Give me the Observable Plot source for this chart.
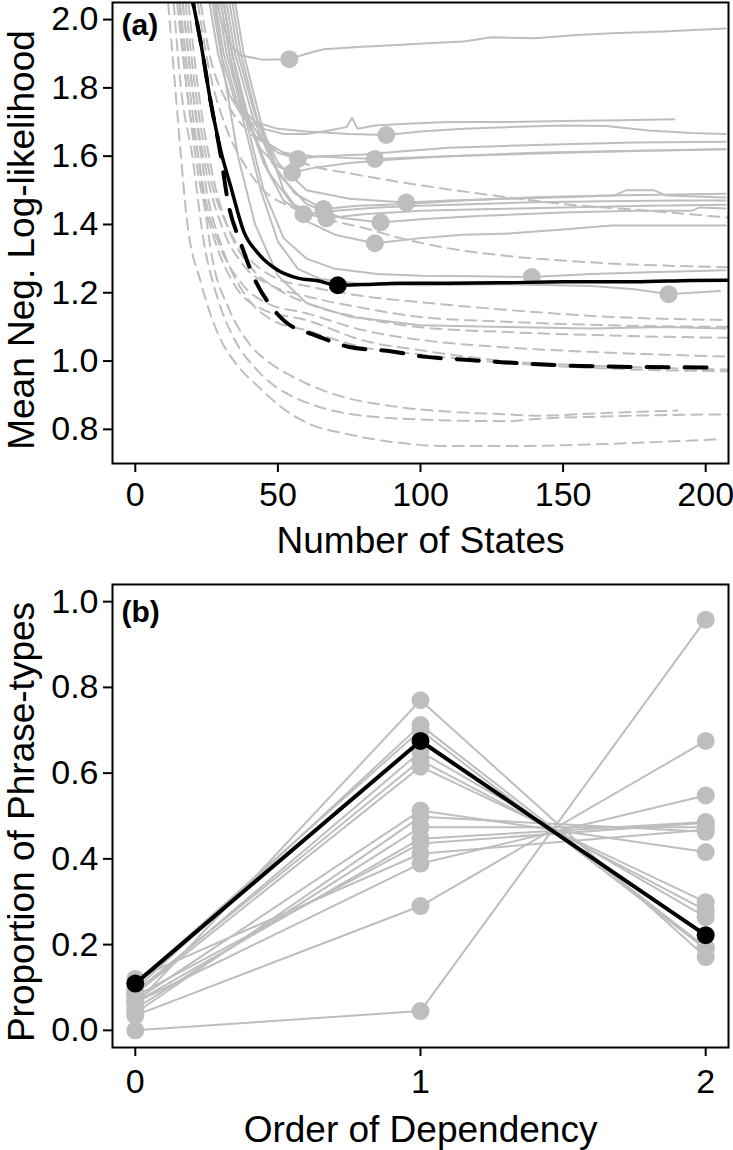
<!DOCTYPE html>
<html><head><meta charset="utf-8">
<script src="https://cdn.jsdelivr.net/npm/d3@7"></script>
<script src="https://cdn.jsdelivr.net/npm/@observablehq/plot@0.6"></script>
<style>
body{margin:0;background:#fff;}
#chart{width:733px;}
svg{display:block;}
</style></head><body><div id="chart"></div>
<script>
// ---------- Panel (a) ----------
const statesTicks = [0, 50, 100, 150, 200];
const llTicks = [0.8, 1.0, 1.2, 1.4, 1.6, 1.8, 2.0];

// gray solid curves (Number of States, Mean Neg. Log-likelihood)
const solid01 = [[27,2.1],[30,2.0],[33,1.93],[37,1.895],[45,1.882],[54,1.884],[60,1.9],[66,1.913],[78,1.92],[90,1.925],[101,1.93],[115,1.936],[125,1.948],[140,1.945],[155,1.955],[167,1.96],[185,1.965],[207,1.974]];
const solid02 = [[25,2.1],[29,1.9],[33,1.78],[38,1.71],[45,1.68],[52,1.665],[60,1.665],[68,1.675],[74,1.685],[76,1.712],[78,1.68],[84,1.69],[95,1.695],[110,1.7],[130,1.7],[150,1.703],[170,1.705],[189,1.708]];
const solid03 = [[26,2.1],[30,1.9],[35,1.76],[42,1.7],[50,1.68],[60,1.672],[75,1.665],[88,1.662],[100,1.672],[115,1.68],[130,1.685],[150,1.69],[165,1.688],[180,1.675],[195,1.668],[207,1.665]];
const solid04 = [[27,2.1],[31,1.9],[36,1.75],[42,1.66],[50,1.61],[57,1.592],[65,1.6],[80,1.605],[95,1.615],[110,1.625],[130,1.63],[150,1.635],[175,1.64],[207,1.642]];
const solid05 = [[28,2.1],[32,1.9],[37,1.75],[44,1.65],[52,1.61],[62,1.6],[74,1.595],[84,1.592],[95,1.595],[110,1.6],[130,1.605],[150,1.61],[175,1.615],[207,1.62]];
const solid06 = [[29,2.1],[33,1.9],[38,1.72],[44,1.62],[50,1.57],[55,1.552],[62,1.565],[75,1.58],[90,1.59],[110,1.6],[140,1.61],[170,1.615],[207,1.62]];
const solid07 = [[30,2.1],[34,1.9],[39,1.72],[45,1.58],[52,1.47],[59,1.43],[70,1.44],[85,1.45],[100,1.455],[120,1.46],[140,1.465],[165,1.468],[190,1.47],[207,1.47]];
const solid08 = [[31,2.1],[35,1.9],[41,1.72],[48,1.58],[56,1.49],[66,1.445],[78,1.455],[95,1.46],[115,1.47],[140,1.48],[165,1.485],[190,1.488],[207,1.49]];
const solid09 = [[30,2.1],[34,1.9],[40,1.7],[47,1.55],[55,1.46],[67,1.418],[80,1.43],[100,1.44],[125,1.445],[150,1.45],[180,1.455],[207,1.458]];
const solid10 = [[32,2.1],[36,1.9],[42,1.72],[50,1.58],[60,1.5],[75,1.475],[95,1.464],[110,1.47],[130,1.475],[150,1.48],[168,1.485],[172,1.5],[182,1.5],[186,1.485],[207,1.479]];
const solid11 = [[33,2.1],[37,1.9],[43,1.7],[50,1.55],[60,1.46],[72,1.42],[86,1.406],[100,1.415],[120,1.425],[150,1.435],[175,1.44],[195,1.44],[198,1.45],[207,1.447]];
const solid12 = [[34,2.1],[38,1.9],[44,1.7],[52,1.5],[60,1.41],[70,1.37],[84,1.345],[100,1.36],[115,1.37],[132,1.374],[150,1.385],[167,1.397],[207,1.397]];
const solid13 = [[30,2.1],[34,1.9],[39,1.7],[45,1.5],[52,1.36],[60,1.3],[70,1.27],[85,1.255],[100,1.25],[120,1.248],[139,1.246],[160,1.255],[180,1.26],[207,1.266]];
const solid14 = [[29,2.1],[33,1.9],[38,1.7],[44,1.5],[50,1.35],[57,1.27],[65,1.24],[80,1.225],[100,1.222],[130,1.225],[160,1.22],[175,1.21],[187,1.196],[195,1.2],[205,1.205]];
const solid15 = [[27,2.1],[31,1.85],[36,1.6],[42,1.4],[50,1.25],[60,1.17],[75,1.13],[100,1.105],[130,1.1],[160,1.095],[185,1.1],[207,1.095]];
const graySolid = [solid01, solid02, solid03, solid04, solid05, solid06, solid07, solid08, solid09, solid10, solid11, solid12, solid13, solid14, solid15];

// minima of the gray solid curves
const grayMinX = [54, 88, 57, 84, 55, 59, 66, 67, 95, 86, 84, 139, 187];
const grayMinY = [1.884, 1.662, 1.592, 1.592, 1.552, 1.43, 1.445, 1.418, 1.464, 1.406, 1.345, 1.246, 1.196];

// gray dashed curves
const dash01 = [[11,2.1],[14,1.8],[16,1.6],[18,1.42],[23,1.23],[29,1.08],[36,0.985],[43,0.926],[52,0.86],[60,0.82],[75,0.785],[90,0.763],[111,0.751],[130,0.751],[164,0.757],[205,0.771]];
const dash02 = [[13,2.1],[16,1.8],[20,1.6],[24,1.35],[29,1.18],[35,1.06],[42,0.98],[50,0.92],[55,0.897],[72,0.85],[96,0.83],[130,0.824],[140,0.83],[175,0.84],[208,0.844]];
const dash03 = [[15,2.1],[18,1.8],[22,1.6],[27,1.3],[33,1.15],[40,1.05],[48,0.99],[55,0.955],[72,0.897],[90,0.868],[113,0.85],[130,0.844],[140,0.84],[165,0.848],[190,0.855]];
const dash04 = [[22,2.1],[26,1.9],[32,1.76],[40,1.67],[50,1.62],[60,1.577],[75,1.55],[90,1.528],[121,1.49],[150,1.46],[180,1.44],[208,1.42]];
const dash05 = [[21,2.1],[26,1.85],[32,1.68],[38,1.58],[45,1.5],[55,1.45],[65,1.42],[80,1.39],[93,1.36],[110,1.33],[128,1.31],[164,1.287],[208,1.275]];
const dash06 = [[17,2.1],[21,1.8],[26,1.55],[32,1.4],[40,1.3],[50,1.24],[60,1.22],[80,1.19],[99,1.173],[130,1.15],[165,1.13],[208,1.12]];
const dash07 = [[16,2.1],[20,1.8],[25,1.55],[31,1.38],[38,1.28],[48,1.22],[60,1.19],[80,1.155],[99,1.13],[130,1.115],[165,1.105],[208,1.1]];
const dash08 = [[18,2.1],[22,1.8],[27,1.55],[33,1.38],[40,1.28],[50,1.21],[60,1.17],[80,1.125],[99,1.1],[130,1.085],[165,1.075],[208,1.068]];
const dash09 = [[15,2.1],[19,1.8],[24,1.5],[30,1.33],[37,1.23],[46,1.17],[60,1.14],[80,1.09],[99,1.063],[130,1.04],[165,1.025],[208,1.013]];
const dash10 = [[14,2.1],[18,1.8],[22,1.55],[28,1.35],[35,1.22],[45,1.15],[60,1.12],[80,1.06],[99,1.033],[130,1.0],[165,0.985],[208,0.975]];
const dash11 = [[16,2.1],[20,1.8],[25,1.5],[31,1.32],[38,1.2],[48,1.12],[60,1.09],[80,1.04],[99,1.02],[130,0.995],[165,0.978],[208,0.97]];
const grayDashed = [dash01, dash02, dash03, dash04, dash05, dash06, dash07, dash08, dash09, dash10, dash11];

// black curves
const blackSolid = [[19,2.1],[23,1.93],[26.4,1.76],[30,1.615],[33.5,1.51],[38,1.38],[43,1.316],[50,1.266],[57,1.243],[64,1.235],[71,1.222],[80,1.224],[93,1.228],[110,1.228],[128,1.229],[150,1.232],[175,1.232],[195,1.236],[208,1.237]];
const blackDashed = [[19,2.1],[23,1.93],[26.4,1.76],[30,1.6],[32.4,1.47],[37,1.345],[41.5,1.246],[48.6,1.15],[57,1.092],[60.5,1.083],[74.6,1.042],[90,1.028],[101,1.013],[115.6,1.004],[129.6,0.996],[164,0.984],[205,0.981]];
const blackMin = [71, 1.222];

// ---------- Panel (b) ----------
const orders = [0, 1, 2];
const propTicks = [0, 0.2, 0.4, 0.6, 0.8, 1.0];
const phraseGray = [
  [0.00, 0.045, 0.958],
  [0.035, 0.290, 0.675],
  [0.06, 0.770, 0.171],
  [0.065, 0.389, 0.548],
  [0.095, 0.712, 0.194],
  [0.11, 0.700, 0.190],
  [0.085, 0.650, 0.264],
  [0.09, 0.630, 0.280],
  [0.085, 0.615, 0.299],
  [0.07, 0.513, 0.416],
  [0.04, 0.498, 0.463],
  [0.05, 0.474, 0.474],
  [0.065, 0.447, 0.486],
  [0.08, 0.436, 0.484],
  [0.12, 0.412, 0.468]
];
const phraseBlack = [0.109, 0.675, 0.222];

// ---------- build ----------
const GRAY = "#bebebe";
const FONT = "'Liberation Sans', Arial, sans-serif";
const toRows = (list) => list.flatMap((pts, i) => pts.map(([x, y]) => ({x, y, id: i})));
const solidRows = toRows(graySolid);
const dashedRows = toRows(grayDashed);
const minRows = grayMinX.map((x, i) => ({x, y: grayMinY[i]}));
const bSolidRows = blackSolid.map(([x, y]) => ({x, y}));
const bDashedRows = blackDashed.map(([x, y]) => ({x, y}));

const TICK = 34, TITLE = 37, TAG = 30;

const plotA = Plot.plot({
  width: 733, height: 570,
  marginLeft: 112, marginRight: 5, marginTop: 2, marginBottom: 107,
  style: {fontFamily: FONT, background: "white", color: "black"},
  x: {domain: [-8, 208]},
  y: {domain: [0.70, 2.05]},
  marks: [
    Plot.line(dashedRows, {x: "x", y: "y", z: "id", stroke: GRAY, strokeWidth: 2, strokeDasharray: "11,7", curve: "monotone-x", clip: true}),
    Plot.line(solidRows, {x: "x", y: "y", z: "id", stroke: GRAY, strokeWidth: 2, curve: "linear", clip: true}),
    Plot.dot(minRows, {x: "x", y: "y", r: 9, fill: GRAY}),
    Plot.line(bDashedRows, {x: "x", y: "y", stroke: "black", strokeWidth: 4, strokeDasharray: "22,16", curve: "monotone-x", clip: true}),
    Plot.line(bSolidRows, {x: "x", y: "y", stroke: "black", strokeWidth: 3.5, curve: "monotone-x", clip: true}),
    Plot.dot([blackMin], {x: d => d[0], y: d => d[1], r: 9, fill: "black"}),
    Plot.frame({stroke: "black", strokeWidth: 2}),
    Plot.axisX({ticks: statesTicks, tickSize: 9, tickPadding: 9, fontSize: TICK, strokeWidth: 2, label: null, tickFormat: d => String(d)}),
    Plot.axisY({ticks: llTicks, tickSize: 9, tickPadding: 5, fontSize: TICK, strokeWidth: 2, label: null, tickFormat: d3.format(".1f")}),
    Plot.text(["(a)"], {text: d => d, frameAnchor: "top-left", dx: 9, dy: 23, lineAnchor: "middle", textAnchor: "start", fontWeight: "bold", fontSize: TAG}),
    Plot.text(["Number of States"], {text: d => d, frameAnchor: "bottom", dy: 78, lineAnchor: "middle", textAnchor: "middle", fontSize: TITLE}),
    Plot.text(["Mean Neg. Log-likelihood"], {text: d => d, frameAnchor: "left", dx: -90, dy: 7, rotate: -90, lineAnchor: "middle", textAnchor: "middle", fontSize: TITLE})
  ]
});

const grayRowsB = phraseGray.flatMap((vals, i) => vals.map((v, j) => ({order: orders[j], p: v, id: i})));
const blackRowsB = phraseBlack.map((v, j) => ({order: orders[j], p: v}));

const plotB = Plot.plot({
  width: 733, height: 580,
  marginLeft: 112, marginRight: 5, marginTop: 14, marginBottom: 103,
  style: {fontFamily: FONT, background: "white", color: "black"},
  x: {domain: [-0.08, 2.08]},
  y: {domain: [-0.04, 1.04]},
  marks: [
    Plot.line(grayRowsB, {x: "order", y: "p", z: "id", stroke: GRAY, strokeWidth: 2}),
    Plot.dot(grayRowsB, {x: "order", y: "p", r: 9, fill: GRAY}),
    Plot.line(blackRowsB, {x: "order", y: "p", stroke: "black", strokeWidth: 4}),
    Plot.dot(blackRowsB, {x: "order", y: "p", r: 9, fill: "black"}),
    Plot.frame({stroke: "black", strokeWidth: 2}),
    Plot.axisX({ticks: orders, tickSize: 9, tickPadding: 12, fontSize: TICK, strokeWidth: 2, label: null, tickFormat: d => String(d)}),
    Plot.axisY({ticks: propTicks, tickSize: 9, tickPadding: 5, fontSize: TICK, strokeWidth: 2, label: null, tickFormat: d3.format(".1f")}),
    Plot.text(["(b)"], {text: d => d, frameAnchor: "top-left", dx: 9, dy: 28, lineAnchor: "middle", textAnchor: "start", fontWeight: "bold", fontSize: TAG}),
    Plot.text(["Order of Dependency"], {text: d => d, frameAnchor: "bottom", dy: 83, lineAnchor: "middle", textAnchor: "middle", fontSize: TITLE}),
    Plot.text(["Proportion of Phrase-types"], {text: d => d, frameAnchor: "left", dx: -90, dy: 6, rotate: -90, lineAnchor: "middle", textAnchor: "middle", fontSize: TITLE})
  ]
});

const chart = document.getElementById("chart");
chart.appendChild(plotA);
chart.appendChild(plotB);
</script></body></html>
